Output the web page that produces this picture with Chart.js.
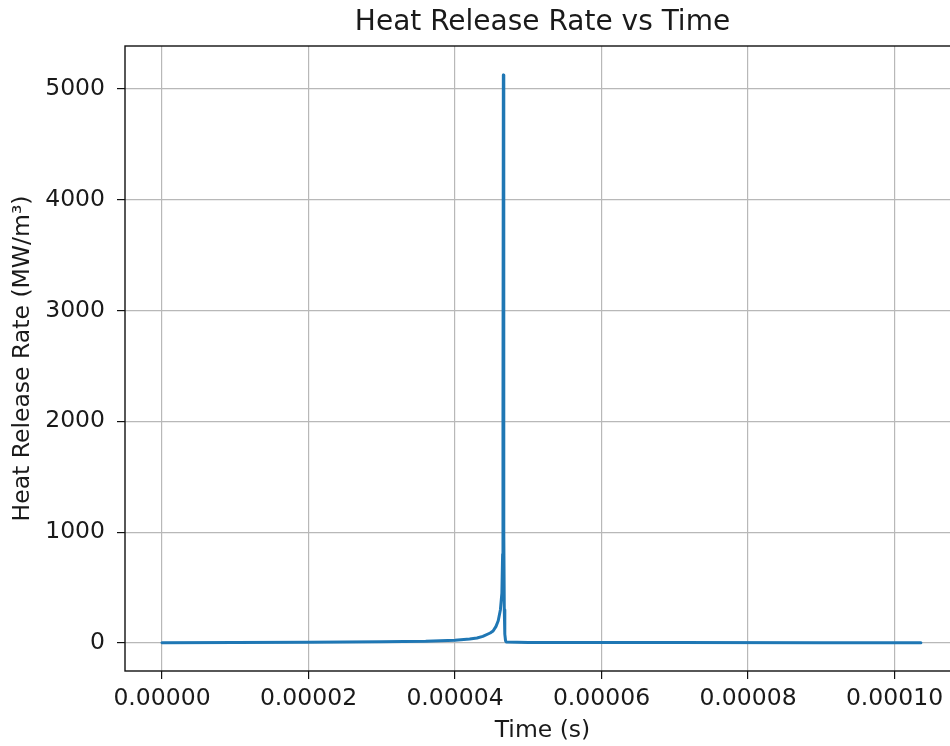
<!DOCTYPE html>
<html>
<head>
<meta charset="utf-8">
<script src="https://cdn.jsdelivr.net/npm/chart.js@4.4.0/dist/chart.umd.min.js"></script>
<style>
  html, body { margin: 0; padding: 0; background: #fff; overflow: hidden; }
  #wrap { width: 960px; height: 746px; }
</style>
</head>
<body>
<div id="wrap"><canvas id="hrr" width="960" height="746"></canvas></div>
<script>
// time (s) and heat release rate (MW/m3)
const times = [0, 0.00001, 0.00002, 0.00003, 0.000036, 0.00004, 0.000042, 0.000043,
  0.0000438, 0.0000448, 0.0000452, 0.0000456, 0.0000459, 0.0000462, 0.0000464,
  0.0000465, 0.00004655, 0.0000466, 0.00004664, 0.00004668, 0.00004673, 0.0000468,
  0.0000469, 0.000047, 0.00005, 0.00007, 0.00009, 0.0001036];
const hrr = [3, 5, 7, 10, 15, 25, 35, 45,
  60, 90, 108, 150, 200, 300, 450,
  800, 2000, 5126, 2500, 1000, 300, 80,
  20, 8, 5, 4, 3, 3];

const xTicks = [0, 0.00002, 0.00004, 0.00006, 0.00008, 0.0001];
const yTicks = [0, 1000, 2000, 3000, 4000, 5000];
const chartTitle = 'Heat Release Rate vs Time';

const points = times.map((t, i) => ({x: t, y: hrr[i]}));

const font = 'DejaVu Sans';
const ink = '#1a1a1a';

// axes frame + title centred over the plot area (matplotlib style)
const frame = {
  id: 'frame',
  afterDraw(chart) {
    const a = chart.chartArea, c = chart.ctx;
    c.save();
    c.strokeStyle = '#111';
    c.lineWidth = 1.4;
    c.strokeRect(a.left, a.top, a.right - a.left, a.bottom - a.top);
    c.fillStyle = ink;
    c.font = '28px "' + font + '"';
    c.textAlign = 'center';
    c.textBaseline = 'middle';
    c.fillText(chartTitle, (a.left + a.right) / 2, 23);
    c.restore();
  }
};

new Chart(document.getElementById('hrr'), {
  type: 'line',
  data: {
    datasets: [{
      data: points,
      borderColor: '#1f77b4',
      borderWidth: 3,
      borderJoinStyle: 'round',
      borderCapStyle: 'round',
      pointRadius: 0,
      tension: 0,
      fill: false
    }]
  },
  options: {
    responsive: false,
    animation: false,
    layout: { padding: { top: 46, left: 0, right: 0, bottom: 0 } },
    plugins: {
      legend: { display: false },
      tooltip: { enabled: false },
      title: { display: false }
    },
    scales: {
      x: {
        type: 'linear',
        min: -0.00000505,
        max: 0.00010894,
        afterFit(s) { s.height = 75; },
        afterBuildTicks(s) { s.ticks = xTicks.map(v => ({value: v})); },
        grid: { color: '#b8b8b8', lineWidth: 1.2, tickColor: '#111', tickLength: 8, drawTicks: true },
        border: { display: false },
        ticks: {
          color: ink,
          padding: 6,
          maxRotation: 0,
          font: { family: font, size: 23.5 },
          callback: v => v.toFixed(5)
        },
        title: {
          display: true,
          text: 'Time (s)',
          color: ink,
          font: { family: font, size: 23.5 },
          padding: { top: 0, bottom: 1 }
        }
      },
      y: {
        type: 'linear',
        min: -253,
        max: 5388,
        afterFit(s) { s.width = 125; },
        afterBuildTicks(s) { s.ticks = yTicks.map(v => ({value: v})); },
        grid: { color: '#b8b8b8', lineWidth: 1.2, tickColor: '#111', tickLength: 8, drawTicks: true },
        border: { display: false },
        ticks: {
          color: ink,
          padding: 12,
          font: { family: font, size: 23.5 },
          callback: v => String(v)
        },
        title: {
          display: true,
          text: 'Heat Release Rate (MW/m³)',
          color: ink,
          font: { family: font, size: 23.5 },
          padding: { top: 9, bottom: 0 }
        }
      }
    }
  },
  plugins: [frame]
});
</script>
</body>
</html>
